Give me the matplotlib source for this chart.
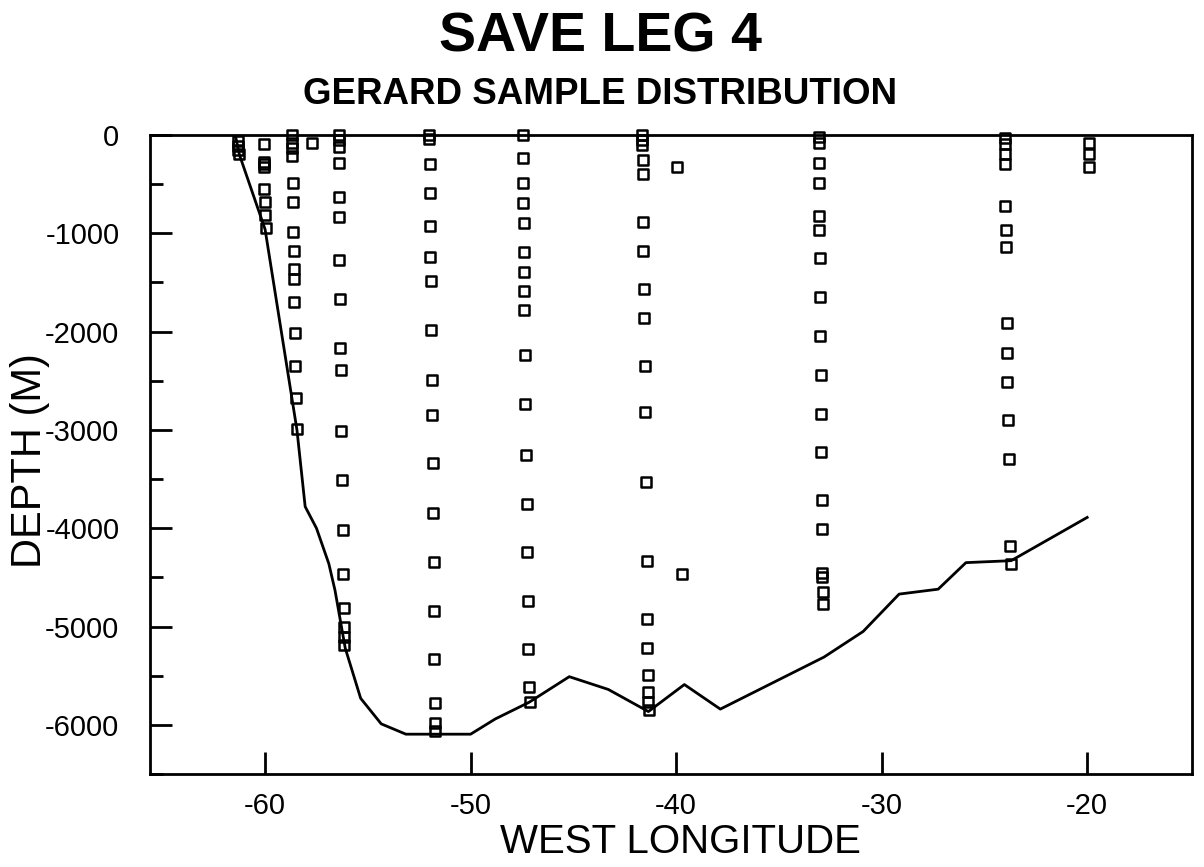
import matplotlib
matplotlib.use("Agg")
import matplotlib.pyplot as plt
from matplotlib.ticker import MultipleLocator
from matplotlib.markers import MarkerStyle

plt.rcParams['font.family'] = ['Liberation Sans', 'DejaVu Sans']

# Bottom topography profile
bottom_lon = [-61.45, -61.25, -60.0, -58.45, -58.05, -57.5, -56.9, -56.6, -56.1, -55.35,
              -54.35, -53.15, -50.0, -48.8, -47.15, -45.2, -43.3, -41.35, -39.6, -37.85,
              -32.8, -30.9, -29.15, -27.25, -25.9, -23.7, -20.0]
bottom_depth = [0, -200, -960, -3000, -3780, -4000, -4360, -4630, -5220, -5730,
                -5990, -6095, -6095, -5940, -5770, -5510, -5640, -5865, -5590, -5840,
                -5310, -5050, -4670, -4620, -4350, -4330, -3890]

# Sample positions (per station)
st_a_lon = [-61.3, -61.3, -61.3, -61.28]
st_a_depth = [-60, -110, -150, -190]

st_b_lon = [-60.05, -60.05, -60.05, -60.05, -60.03, -60.02, -60.0, -59.98]
st_b_depth = [-90, -270, -300, -330, -550, -680, -810, -950]

st_c_lon = [-58.67, -58.67, -58.67, -58.67, -58.64, -58.63, -58.62, -58.6, -58.6,
            -58.6, -58.58, -58.56, -58.53, -58.5, -58.46]
st_c_depth = [0, -80, -136, -214, -485, -685, -983, -1180, -1366, -1468, -1702,
              -2017, -2350, -2678, -2993]

st_d_lon = [-57.7]
st_d_depth = [-85]

st_e_lon = [-56.42, -56.42, -56.42, -56.42, -56.4, -56.4, -56.38, -56.36, -56.34,
            -56.32, -56.3, -56.25, -56.22, -56.2, -56.18, -56.16, -56.16, -56.15]
st_e_depth = [0, -51, -119, -288, -627, -831, -1271, -1671, -2163, -2390, -3007,
              -3509, -4017, -4465, -4807, -5000, -5102, -5187]

st_f_lon = [-52.03, -52.03, -52.0, -51.98, -51.97, -51.96, -51.95, -51.93, -51.9,
            -51.88, -51.85, -51.83, -51.8, -51.78, -51.76, -51.74, -51.72, -51.72]
st_f_depth = [0, -44, -295, -593, -922, -1237, -1485, -1983, -2492, -2848, -3339,
              -3841, -4339, -4838, -5332, -5780, -5977, -6061]

st_g_lon = [-47.45, -47.45, -47.44, -47.43, -47.42, -47.41, -47.4, -47.39, -47.38,
            -47.36, -47.34, -47.3, -47.28, -47.25, -47.22, -47.2, -47.15, -47.12]
st_g_depth = [0, -237, -491, -688, -892, -1193, -1397, -1587, -1780, -2237, -2736,
              -3250, -3753, -4244, -4739, -5231, -5617, -5763]

st_h_lon = [-41.64, -41.64, -41.64, -41.63, -41.63, -41.6, -41.59, -41.57, -41.55,
            -41.53, -41.5, -41.47, -41.44, -41.41, -41.4, -41.38, -41.36, -41.35, -41.34]
st_h_depth = [0, -50, -100, -254, -392, -881, -1176, -1569, -1866, -2352, -2820,
              -3532, -4332, -4925, -5214, -5492, -5668, -5763, -5848]

st_i_lon = [-39.95, -39.7]
st_i_depth = [-329, -4468]

st_j_lon = [-33.07, -33.07, -33.06, -33.05, -33.04, -33.03, -33.02, -33.0, -32.98,
            -32.97, -32.95, -32.94, -32.92, -32.9, -32.88, -32.88, -32.87, -32.86]
st_j_depth = [-17, -80, -288, -485, -824, -966, -1248, -1651, -2044, -2441, -2837,
              -3225, -3712, -4010, -4460, -4500, -4644, -4770]

st_k_lon = [-24.0, -24.0, -24.0, -24.0, -23.98, -23.97, -23.96, -23.92, -23.9,
            -23.88, -23.85, -23.82, -23.74, -23.72]
st_k_depth = [-30, -90, -190, -290, -722, -966, -1136, -1915, -2213, -2509, -2900,
              -3300, -4180, -4360]

st_l_lon = [-19.9, -19.9, -19.9]
st_l_depth = [-85, -190, -330]

sample_lon = (st_a_lon + st_b_lon + st_c_lon + st_d_lon + st_e_lon + st_f_lon +
              st_g_lon + st_h_lon + st_i_lon + st_j_lon + st_k_lon + st_l_lon)
sample_depth = (st_a_depth + st_b_depth + st_c_depth + st_d_depth + st_e_depth +
                st_f_depth + st_g_depth + st_h_depth + st_i_depth + st_j_depth +
                st_k_depth + st_l_depth)

x_ticks = [-60, -50, -40, -30, -20]
y_ticks = [0, -1000, -2000, -3000, -4000, -5000, -6000]

W, H = 1204, 867
fig = plt.figure(figsize=(W / 100, H / 100), dpi=100)
ax = fig.add_axes([150 / W, (H - 774) / H, (1192 - 150) / W, (774 - 135) / H])

ax.plot(bottom_lon, bottom_depth, color='black', lw=2.0, zorder=2)
ax.plot(sample_lon, sample_depth, linestyle='none',
        marker=MarkerStyle('s', joinstyle='round'), markersize=6.6,
        markerfacecolor='none', markeredgecolor='black', markeredgewidth=1.8,
        clip_on=False, zorder=3)

ax.set_xlim(-65.6, -14.9)
ax.set_ylim(-6500, 0)
ax.set_xticks(x_ticks)
ax.set_xticklabels([str(v) for v in x_ticks])
ax.set_yticks(y_ticks)
ax.set_yticklabels([str(v) for v in y_ticks])
ax.yaxis.set_minor_locator(MultipleLocator(500))

ax.tick_params(axis='both', which='major', direction='in', length=16, width=2,
               labelsize=21)
ax.tick_params(axis='y', which='minor', direction='in', length=9, width=2)
ax.tick_params(axis='x', which='major', pad=13)
ax.tick_params(axis='y', which='major', pad=22)
for sp in ax.spines.values():
    sp.set_linewidth(2)

fig.text(680 / W, 1 - 842 / H, 'WEST LONGITUDE', ha='center', va='center',
         fontsize=29)
fig.text(30 / W, 1 - 461 / H, 'DEPTH (M)', ha='center', va='center',
         fontsize=30, rotation=90)

fig.text(600 / W, 1 - 38 / H, 'SAVE LEG 4', ha='center', va='center', fontsize=40,
         fontweight='bold')
fig.text(600 / W, 1 - 95 / H, 'GERARD SAMPLE DISTRIBUTION', ha='center', va='center',
         fontsize=26.5, fontweight='bold')

fig.savefig('out.png', dpi=100)
